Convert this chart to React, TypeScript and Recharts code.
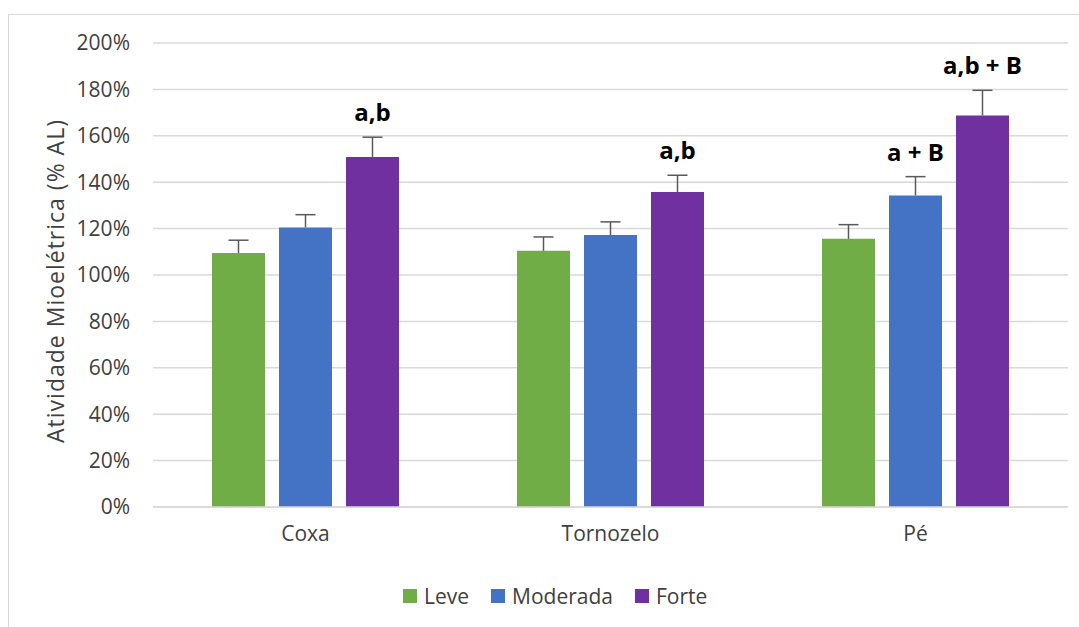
import React from 'react';
import { BarChart, Bar, XAxis, YAxis, CartesianGrid, ErrorBar, LabelList } from 'recharts';

const categories = ['Coxa', 'Tornozelo', 'Pé'];
const leve = [109.5, 110.4, 115.6];
const moderada = [120.5, 117.2, 134.3];
const forte = [150.9, 135.8, 168.8];
const leveErr = [5.5, 6.0, 6.1];
const moderadaErr = [5.5, 5.7, 8.1];
const forteErr = [8.5, 7.2, 10.8];
const moderadaLabels = ['', '', 'a + B'];
const forteLabels = ['a,b', 'a,b', 'a,b + B'];
const yTicks = [0, 20, 40, 60, 80, 100, 120, 140, 160, 180, 200];

const series = [
  { key: 'leve', name: 'Leve', color: '#70AD47' },
  { key: 'moderada', name: 'Moderada', color: '#4472C4' },
  { key: 'forte', name: 'Forte', color: '#7030A0' },
];

const data = categories.map((name, i) => ({
  name,
  leve: leve[i],
  moderada: moderada[i],
  forte: forte[i],
  leveErr: [0, leveErr[i]],
  moderadaErr: [0, moderadaErr[i]],
  forteErr: [0, forteErr[i]],
  moderadaLabel: moderadaLabels[i],
  forteLabel: forteLabels[i],
}));

const FONT = '"Open Sans", sans-serif';

// label sits above the error bar whisker
function sigLabel(values: number[], errs: number[]) {
  return (props: any) => {
    const vb = props.viewBox || props;
    const { x, y, width, height } = vb;
    const i = props.index;
    if (!props.value || x == null) return null;
    const pxPer = height / values[i];
    const top = y - errs[i] * pxPer;
    return (
      <text
        x={x + width / 2}
        y={top - 16}
        textAnchor="middle"
        fontFamily={FONT}
        fontWeight={700}
        fontSize={24}
        fill="#000"
      >
        {props.value}
      </text>
    );
  };
}

export default function App() {
  return (
    <div style={{ position: 'absolute', left: 0, top: 0, width: 1079, height: 627, background: '#fff', overflow: 'hidden' }}>
      {/* plus-only error bars: hide the cap drawn at the bar top */}
      <style>{'.recharts-errorBar line:last-of-type { display: none; }'}</style>
      <div
        style={{
          position: 'absolute',
          left: 8,
          top: 14,
          width: 1100,
          height: 640,
          borderLeft: '1.5px solid #d9d9d9',
          borderTop: '1.5px solid #d9d9d9',
        }}
      />
      <div style={{ position: 'absolute', left: 0, top: 0 }}>
        <BarChart
          width={1079}
          height={627}
          data={data}
          margin={{ top: 43, right: 11, left: 0, bottom: 80 }}
          barGap={14}
          barSize={53}
        >
          <CartesianGrid vertical={false} stroke="#d9d9d9" strokeWidth={1.5} />
          <XAxis
            dataKey="name"
            height={40}
            tickLine={false}
            tickSize={0}
            tickMargin={19}
            axisLine={{ stroke: '#d9d9d9', strokeWidth: 1.5 }}
            tick={{ fontFamily: FONT, fontSize: 21, fill: '#404040' }}
          />
          <YAxis
            width={153}
            domain={[0, 200]}
            ticks={yTicks}
            interval={0}
            tickFormatter={(v) => `${v}%`}
            axisLine={false}
            tickLine={false}
            tickSize={0}
            tickMargin={23}
            tick={{ fontFamily: FONT, fontSize: 21, fill: '#404040' }}
            label={{
              content: (p: any) => {
                const vb = p.viewBox;
                const cx = vb.x + 55;
                const cy = vb.y + vb.height / 2 + 6;
                return (
                  <text
                    x={cx}
                    y={cy}
                    textAnchor="middle"
                    dominantBaseline="central"
                    transform={`rotate(-90 ${cx} ${cy})`}
                    fontFamily={FONT}
                    fontSize={23}
                    letterSpacing={1}
                    fill="#404040"
                  >
                    Atividade Mioelétrica (% AL)
                  </text>
                );
              },
            }}
          />
          <Bar dataKey="leve" name="Leve" fill="#70AD47" isAnimationActive={false}>
            <ErrorBar dataKey="leveErr" width={10} stroke="#595959" strokeWidth={1.5} />
          </Bar>
          <Bar dataKey="moderada" name="Moderada" fill="#4472C4" isAnimationActive={false}>
            <ErrorBar dataKey="moderadaErr" width={10} stroke="#595959" strokeWidth={1.5} />
            <LabelList dataKey="moderadaLabel" content={sigLabel(moderada, moderadaErr)} />
          </Bar>
          <Bar dataKey="forte" name="Forte" fill="#7030A0" isAnimationActive={false}>
            <ErrorBar dataKey="forteErr" width={10} stroke="#595959" strokeWidth={1.5} />
            <LabelList dataKey="forteLabel" content={sigLabel(forte, forteErr)} />
          </Bar>
        </BarChart>
      </div>
      <div
        style={{
          position: 'absolute',
          left: 403,
          top: 582,
          display: 'flex',
          alignItems: 'center',
          gap: 22,
          fontFamily: FONT,
          fontSize: 21,
          color: '#404040',
        }}
      >
        {series.map((s) => (
          <div key={s.key} style={{ display: 'flex', alignItems: 'center', gap: 7 }}>
            <span style={{ display: 'inline-block', width: 14, height: 14, background: s.color }} />
            <span>{s.name}</span>
          </div>
        ))}
      </div>
    </div>
  );
}
